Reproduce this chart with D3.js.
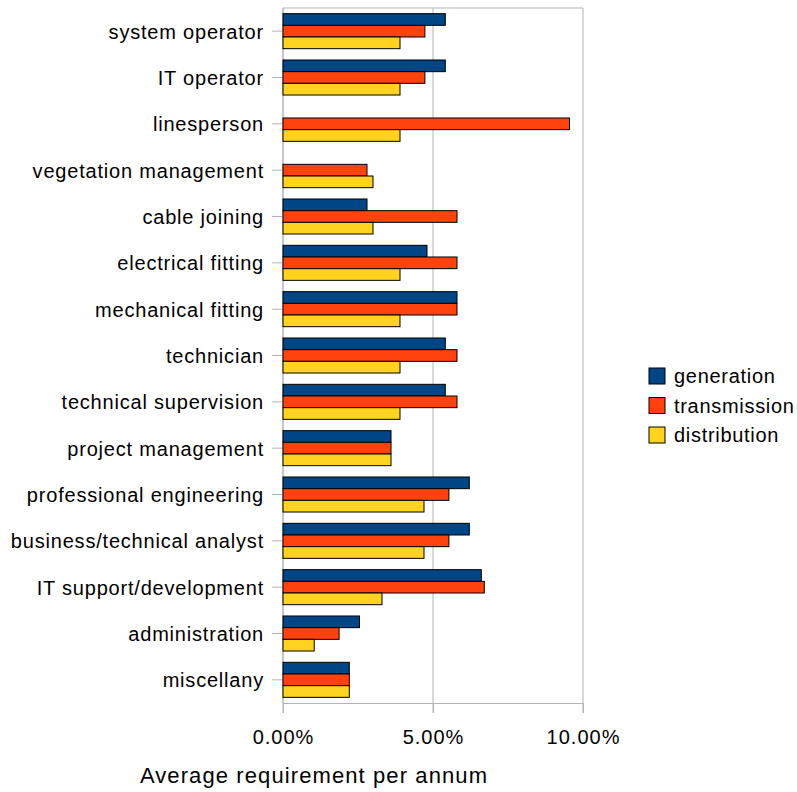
<!DOCTYPE html>
<html>
<head>
<meta charset="utf-8">
<script src="https://cdn.jsdelivr.net/npm/d3@7"></script>
<style>
  body { margin: 0; background: #fff; }
  text { font-family: "Liberation Sans", Arial, sans-serif; fill: #000; }
</style>
</head>
<body>
<div id="chart"></div>
<script>
// data (percent per annum)
const categories = ["system operator", "IT operator", "linesperson", "vegetation management",
    "cable joining", "electrical fitting", "mechanical fitting", "technician",
    "technical supervision", "project management", "professional engineering",
    "business/technical analyst", "IT support/development", "administration", "miscellany"];
const seriesNames = ["generation", "transmission", "distribution"];
const generation   = [5.41, 5.41, 0, 0, 2.80, 4.80, 5.80, 5.41, 5.41, 3.60, 6.21, 6.21, 6.61, 2.55, 2.21];
const transmission = [4.73, 4.73, 9.55, 2.80, 5.80, 5.80, 5.80, 5.80, 5.80, 3.60, 5.53, 5.53, 6.71, 1.87, 2.21];
const distribution = [3.90, 3.90, 3.90, 3.00, 3.00, 3.90, 3.90, 3.90, 3.90, 3.60, 4.70, 4.70, 3.30, 1.04, 2.21];
const xTicks = [0, 0.05, 0.10];
const colors = ["#004586", "#ff420e", "#ffd320"];

const seriesValues = [generation, transmission, distribution];
const rows = categories.map((c, i) => ({
    cat: c,
    vals: seriesNames.map((s, j) => ({ key: s, value: seriesValues[j][i] / 100 }))
}));

const W = 797, H = 792;
const margin = { top: 8, left: 283, right: 214, bottom: 89 };
const width = W - margin.left - margin.right;
const height = H - margin.top - margin.bottom;

const svg = d3.select("#chart").append("svg")
    .attr("width", W)
    .attr("height", H);

const g = svg.append("g")
    .attr("transform", `translate(${margin.left}, ${margin.top})`);

const x = d3.scaleLinear().domain([0, 0.10]).range([0, width]);
const y = d3.scaleBand().domain(categories).range([0, height]).paddingInner(0.244).paddingOuter(0.122);
const y1 = d3.scaleBand().domain(seriesNames).range([0, y.bandwidth()]);
const color = d3.scaleOrdinal().domain(seriesNames).range(colors);

// frame + grid
g.append("line").attr("x1", 0).attr("x2", width).attr("y1", 0).attr("y2", 0)
    .attr("stroke", "#b3b3b3");
g.selectAll(".grid")
    .data(xTicks)
    .enter()
    .append("line")
    .attr("class", "grid")
    .attr("x1", d => x(d)).attr("x2", d => x(d))
    .attr("y1", 0).attr("y2", height + 10)
    .attr("stroke", "#b3b3b3");

// x axis
const xAxis = g.append("g")
    .attr("transform", `translate(0, ${height})`)
    .call(d3.axisBottom(x).tickValues(xTicks).tickFormat(d3.format(".2%")).tickSize(10).tickPadding(17));
xAxis.select(".domain").attr("stroke", "#b3b3b3");
xAxis.selectAll(".tick line").attr("stroke", "#b3b3b3");
xAxis.selectAll("text")
    .style("font-size", "20px")
    .style("letter-spacing", "1px")
    .attr("fill", "#000");

// y axis (ticks at category centres)
const yAxis = g.append("g")
    .call(d3.axisLeft(y).tickSize(11).tickPadding(8));
yAxis.select(".domain").attr("stroke", "#b3b3b3").attr("d", `M0,0V${height}`);
yAxis.selectAll(".tick line").attr("stroke", "#b3b3b3");
yAxis.selectAll("text")
    .style("font-size", "20px")
    .style("letter-spacing", "0.8px")
    .attr("dy", "0.38em")
    .attr("fill", "#000");

// bars
const groups = g.selectAll(".cat")
    .data(rows)
    .enter()
    .append("g")
    .attr("class", "cat")
    .attr("transform", d => `translate(0, ${y(d.cat)})`);

groups.selectAll("rect")
    .data(d => d.vals.filter(v => v.value > 0))
    .enter()
    .append("rect")
    .attr("x", x(0))
    .attr("y", d => y1(d.key))
    .attr("width", d => x(d.value) - x(0))
    .attr("height", y1.bandwidth())
    .attr("fill", d => color(d.key))
    .attr("stroke", "#000")
    .attr("stroke-width", 1);

// axis title
svg.append("text")
    .attr("x", 314)
    .attr("y", 783)
    .attr("text-anchor", "middle")
    .style("font-size", "22px")
    .style("letter-spacing", "1.1px")
    .text("Average requirement per annum");

// legend
const legend = svg.append("g")
    .attr("transform", "translate(649, 368)");
const li = legend.selectAll(".li")
    .data(seriesNames)
    .enter()
    .append("g")
    .attr("class", "li")
    .attr("transform", (d, i) => `translate(0, ${i * 29.5})`);
li.append("rect")
    .attr("width", 16).attr("height", 16)
    .attr("fill", d => color(d))
    .attr("stroke", "#000");
li.append("text")
    .attr("x", 25)
    .attr("y", 8)
    .attr("dy", "0.36em")
    .style("font-size", "20px")
    .style("letter-spacing", "0.7px")
    .text(d => d);
</script>
</body>
</html>
